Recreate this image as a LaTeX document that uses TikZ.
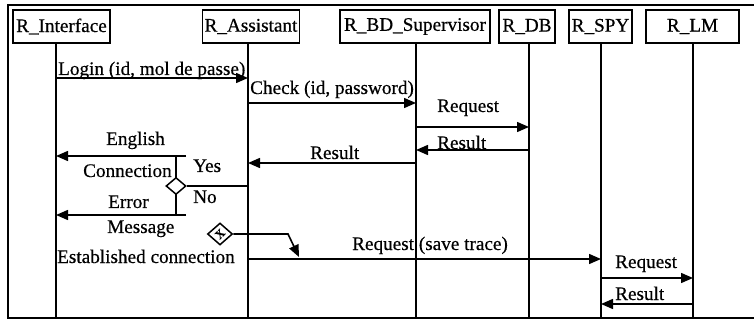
\documentclass[tikz,border=0pt]{standalone}
\usepackage{fontspec}
\setmainfont{Liberation Serif}[FakeBold=0.5]
\usetikzlibrary{arrows.meta,shapes.geometric}
\begin{document}
\begin{tikzpicture}[x=1pt,y=-1pt,
  txt/.style={font=\fontsize{19.2}{22}\selectfont},
  hdr/.style={txt, draw, line width=1.5pt, minimum height=33pt, inner sep=1pt},
  frame/.style={line width=2pt},
  life/.style={line width=1.5pt},
  plain/.style={line width=1.6pt},
  msg/.style={line width=1.5pt, -{Triangle[length=12pt,width=10pt]}},
  lbl/.style={txt, inner sep=0pt, anchor=base west},
  gate/.style={shape=diamond, draw, fill=white, line width=1.5pt, inner sep=0pt},
]
\useasboundingbox (0,0) rectangle (754,320);
% frame
\coordinate (f1) at (754,5); \coordinate (f2) at (8,5);
\coordinate (f3) at (8,318); \coordinate (f4) at (754,318);
\draw[frame] (f1) -- (f2) -- (f3) -- (f4);
% headers
\node[hdr, minimum width=97pt] (hI) at (61.5,26.5) {R\_Interface};
\node[hdr, minimum width=97pt] (hA) at (251,26.5) {R\_Assistant};
\node[hdr, minimum width=150pt] (hS) at (415,26.5) {R\_BD\_Supervisor};
\node[hdr, minimum width=56pt] (hD) at (527,26.5) {R\_DB};
\node[hdr, minimum width=63pt] (hP) at (600.5,26.5) {R\_SPY};
\node[hdr, minimum width=93pt] (hL) at (692.5,26.5) {R\_LM};
% lifelines
\coordinate (I0) at (56,43);  \coordinate (I1) at (56,318);
\coordinate (A0) at (248,43); \coordinate (A1) at (248,318);
\coordinate (S0) at (416,43); \coordinate (S1) at (416,318);
\coordinate (D0) at (529,43); \coordinate (D1) at (529,318);
\coordinate (P0) at (601,43); \coordinate (P1) at (601,318);
\coordinate (L0) at (693,43); \coordinate (L1) at (693,318);
\foreach \l in {I,A,S,D,P,L} \draw[life] (\l0) -- (\l1);
% message 1
\coordinate (m1a) at (56,78); \coordinate (m1b) at (248,78);
\draw[msg] (m1a) -- (m1b);
\node[lbl] (t1) at (58,75) {Login (id, mol de passe)};
% message 2
\coordinate (m2a) at (248,103); \coordinate (m2b) at (416,103);
\draw[msg] (m2a) -- (m2b);
\node[lbl] (t2) at (250,94) {Check (id, password)};
% message 3
\coordinate (m3a) at (416,127); \coordinate (m3b) at (529,127);
\draw[msg] (m3a) -- (m3b);
\node[lbl] (t3) at (437,112) {Request};
% message 4
\coordinate (m4a) at (529,150); \coordinate (m4b) at (416,150);
\draw[msg] (m4a) -- (m4b);
\node[lbl] (t4) at (437,149) {Result};
% message 5
\coordinate (m5a) at (416,163); \coordinate (m5b) at (248,163);
\draw[msg] (m5a) -- (m5b);
\node[lbl] (t5) at (310,159) {Result};
% decision
\coordinate (v0) at (176,156); \coordinate (v1) at (176,215);
\coordinate (y0) at (186,156); \coordinate (y1) at (56,156);
\coordinate (n0) at (186,215); \coordinate (n1) at (56,215);
\coordinate (dA) at (248,186);
\draw[plain] (v0) -- (v1);
\draw[msg] (y0) -- (y1);
\draw[msg] (n0) -- (n1);
\node[gate, minimum width=20pt, minimum height=17pt] (d1) at (176,186) {};
\draw[plain] (dA) -- (d1.east);
\node[lbl] (tE) at (106,145) {English};
\node[lbl] (tC) at (83,177) {Connection};
\node[lbl] (tY) at (193,172) {Yes};
\node[lbl] (tN) at (193,203) {No};
\node[lbl] (tR) at (108,208) {Error};
\node[lbl] (tM) at (107,233) {Message};
% x gateway
\node[gate, minimum width=25pt, minimum height=22pt] (d2) at (220,234) {};
\node[inner sep=0pt, rotate=45, font=\fontsize{12}{12}\selectfont\bfseries] (d2x) at (d2.center) {X};
\coordinate (g1) at (288,234); \coordinate (g2) at (299,257);
\draw[plain, -{Triangle[length=12pt,width=10pt]}] (d2.east) -- (g1) -- (g2);
\node[lbl] (tEC) at (57,263) {Established connection};
% message 6
\coordinate (m6a) at (248,259); \coordinate (m6b) at (601,259);
\draw[msg] (m6a) -- (m6b);
\node[lbl] (t6) at (352,250) {Request (save trace)};
% message 7
\coordinate (m7a) at (601,278); \coordinate (m7b) at (693,278);
\draw[msg] (m7a) -- (m7b);
\node[lbl] (t7) at (615,268) {Request};
% message 8
\coordinate (m8a) at (693,304); \coordinate (m8b) at (601,304);
\draw[msg] (m8a) -- (m8b);
\node[lbl] (t8) at (615,300) {Result};
\end{tikzpicture}
\end{document}
